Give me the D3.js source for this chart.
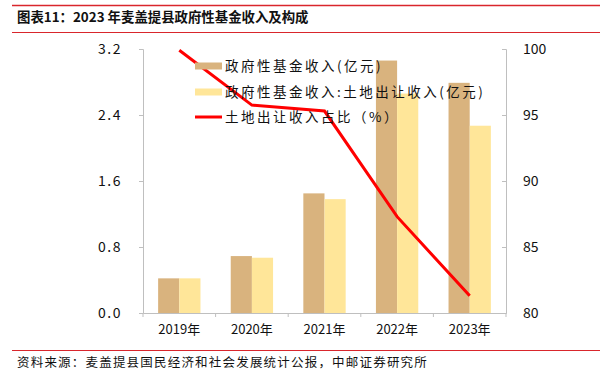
<!DOCTYPE html>
<html><head><meta charset="utf-8">
<script src="https://cdn.jsdelivr.net/npm/d3@7"></script>
<style>body{margin:0;background:#fff;}svg{display:block;}</style>
</head><body>
<script>
const categories = ["2019年","2020年","2021年","2022年","2023年"];
const fundIncome = [0.42, 0.69, 1.45, 3.06, 2.79];
const landIncome = [0.42, 0.67, 1.38, 2.66, 2.27];
const landShare = [99.9, 95.75, 95.3, 87.3, 81.3];
const leftTicks = [0.0, 0.8, 1.6, 2.4, 3.2];
const rightTicks = [80, 85, 90, 95, 100];
const seriesNames = ["政府性基金收入(亿元)", "政府性基金收入:土地出让收入(亿元)", "土地出让收入占比（%）"];
const titleText = "图表11：2023 年麦盖提县政府性基金收入及构成";
const sourceText = "资料来源：麦盖提县国民经济和社会发展统计公报，中邮证券研究所";

const W = 612, H = 377;
const font = "'Noto Sans CJK SC', 'Noto Sans', sans-serif";
const svg = d3.select("body").append("svg").attr("width", W).attr("height", H);

const red = "#D9262C";
svg.append("line").attr("x1",12).attr("x2",600).attr("y1",5.5).attr("y2",5.5).attr("stroke",red).attr("stroke-width",1.7);
svg.append("line").attr("x1",12).attr("x2",600).attr("y1",32.5).attr("y2",32.5).attr("stroke",red).attr("stroke-width",1);
svg.append("line").attr("x1",12).attr("x2",600).attr("y1",350.5).attr("y2",350.5).attr("stroke",red).attr("stroke-width",1);
svg.append("text").attr("x",17).attr("y",22).attr("font-family",font).attr("font-weight","bold").attr("font-size",13.4).attr("fill","#111").text(titleText);
svg.append("text").attr("x",17).attr("y",367).attr("font-family",font).attr("font-size",12.5).attr("letter-spacing",1.2).attr("fill","#111").text(sourceText);

const x0 = 143, x1 = 506, yTop = 49, yBot = 313;
const x = d3.scaleBand().domain(categories).range([x0, x1]).paddingInner(0).paddingOuter(0);
const xs = d3.scaleBand().domain([0,1]).range([0, x.bandwidth()]).paddingInner(0).paddingOuter(0.715);
const yL = d3.scaleLinear().domain([0, 3.2]).range([yBot, yTop]);
const yR = d3.scaleLinear().domain([80, 100]).range([yBot, yTop]);

const axisColor = "#BFBFBF";
const colors = ["#D9B37E", "#FFE699"];
[fundIncome, landIncome].forEach((vals, si) => {
  svg.append("g").selectAll("rect").data(vals).join("rect")
    .attr("x", (d,i) => x(categories[i]) + xs(si))
    .attr("width", xs.bandwidth())
    .attr("y", d => yL(d))
    .attr("height", d => yL(0) - yL(d))
    .attr("fill", colors[si]);
});

const gL = svg.append("g").attr("transform", `translate(${x0},0)`)
  .call(d3.axisLeft(yL).tickValues(leftTicks).tickFormat(d3.format(".1f")).tickSize(4).tickPadding(17));
const gR = svg.append("g").attr("transform", `translate(${x1},0)`)
  .call(d3.axisRight(yR).tickValues(rightTicks).tickSize(-4).tickPadding(17));
const gB = svg.append("g").attr("transform", `translate(0,${yBot})`)
  .call(d3.axisBottom(x).tickSize(0).tickPadding(12));
gB.selectAll(".tick line").remove();
const bounds = categories.map(c => x(c)).concat([x1]);
svg.append("g").selectAll("line").data(bounds).join("line")
  .attr("x1", d => d).attr("x2", d => d).attr("y1", yBot).attr("y2", yBot + 4)
  .attr("stroke", axisColor);

[gL, gR, gB].forEach(g => {
  g.selectAll(".domain").attr("stroke", axisColor);
  g.selectAll(".tick line").attr("stroke", axisColor);
  g.selectAll("text").attr("font-family", font).attr("font-size", 14).attr("fill", "#111");
});
gL.selectAll("text").attr("letter-spacing", 1.5);
gB.selectAll("text").attr("font-size", 13);

const line = d3.line().x((d,i) => x(categories[i]) + x.bandwidth()/2).y(d => yR(d));
svg.append("path").datum(landShare).attr("d", line).attr("fill","none").attr("stroke","#FF0000").attr("stroke-width",3);

const lg = svg.append("g");
const ly = [66, 92, 117];
lg.append("rect").attr("x",195).attr("y",ly[0]-3.5).attr("width",27).attr("height",7).attr("fill",colors[0]);
lg.append("rect").attr("x",195).attr("y",ly[1]-3.5).attr("width",27).attr("height",7).attr("fill",colors[1]);
lg.append("line").attr("x1",195).attr("x2",222).attr("y1",ly[2]).attr("y2",ly[2]).attr("stroke","#FF0000").attr("stroke-width",3);
seriesNames.forEach((n,i) => {
  lg.append("text").attr("x",225).attr("y",ly[i]).attr("dy","0.35em").attr("font-family",font).attr("font-size",13.5).attr("letter-spacing",2.5).attr("fill","#111").text(n);
});
</script>
</body></html>
